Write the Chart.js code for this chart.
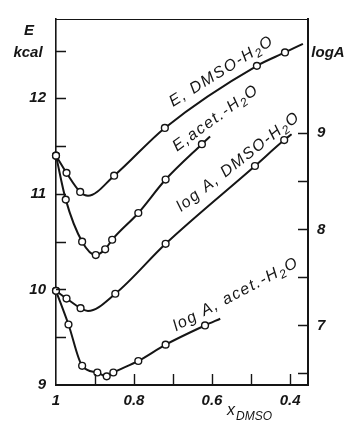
<!DOCTYPE html>
<html>
<head>
<meta charset="utf-8">
<script src="https://cdn.jsdelivr.net/npm/chart.js@4.4.1/dist/chart.umd.min.js"></script>
<style>
  html, body { margin: 0; padding: 0; background: #fff; }
  canvas { display: block; }
</style>
</head>
<body>
<canvas id="chart" width="353" height="423"></canvas>
<script>
// mole fraction of DMSO (x axis runs from 1 down to ~0.35)
const eDmsoX = [1.0, 0.973, 0.938, 0.918, 0.851, 0.721, 0.485, 0.413, 0.367];
const eDmsoY = [11.40, 11.22, 11.02, 10.98, 11.19, 11.69, 12.34, 12.48, 12.57];
const eDmsoMarks = [1, 1, 1, 0, 1, 1, 1, 1, 0];

const eAcetX = [1.0, 0.975, 0.933, 0.898, 0.874, 0.856, 0.789, 0.719, 0.626, 0.605];
const eAcetY = [11.40, 10.94, 10.50, 10.36, 10.42, 10.52, 10.80, 11.15, 11.52, 11.60];
const eAcetMarks = [1, 1, 1, 1, 1, 1, 1, 1, 1, 0];

const aDmsoX = [1.0, 0.973, 0.937, 0.918, 0.848, 0.719, 0.490, 0.415, 0.396];
const aDmsoY = [7.36, 7.28, 7.18, 7.15, 7.33, 7.85, 8.66, 8.93, 8.99];
const aDmsoMarks = [1, 1, 1, 0, 1, 1, 1, 1, 0];

const aAcetX = [1.0, 0.968, 0.933, 0.894, 0.870, 0.853, 0.789, 0.719, 0.618, 0.579];
const aAcetY = [7.36, 7.01, 6.58, 6.51, 6.47, 6.51, 6.63, 6.80, 7.00, 7.07];
const aAcetMarks = [1, 1, 1, 1, 1, 1, 1, 1, 1, 0];

const xTicks = [1, 0.9, 0.8, 0.7, 0.6, 0.5, 0.4];
const xTickLabels = { 1: '1', 0.8: '0.8', 0.6: '0.6', 0.4: '0.4' };
const eTicks = [9, 9.5, 10, 10.5, 11, 11.5, 12, 12.5];
const eTickLabels = { 9: '9', 10: '10', 11: '11', 12: '12' };
const aTicks = [6.5, 7, 7.5, 8, 8.5, 9];
const aTickLabels = { 7: '7', 8: '8', 9: '9' };

const ink = '#151515';
const face = '"Liberation Sans", Arial, sans-serif';

const toPoints = (xs, ys) => xs.map((x, i) => ({ x, y: ys[i] }));

const curve = (xs, ys, marks, axis) => ({
  data: toPoints(xs, ys),
  yAxisID: axis,
  borderColor: ink,
  borderWidth: 2,
  backgroundColor: '#fff',
  pointBorderColor: ink,
  pointBackgroundColor: '#fff',
  pointBorderWidth: 1.4,
  pointRadius: marks.map(m => (m ? 3.4 : 0)),
  cubicInterpolationMode: 'monotone',
  clip: false
});

// curve captions, anchored in data space
const captions = [
  { parts: ['E, DMSO-H', '2', 'O'], x: 0.700, y: 11.91, axis: 'yE', angle: -32 },
  { parts: ['E,acet.-H', '2', 'O'], x: 0.690, y: 11.44, axis: 'yE', angle: -36 },
  { parts: ['log A, DMSO-H', '2', 'O'], x: 0.679, y: 8.18, axis: 'yA', angle: -38 },
  { parts: ['log A, acet.-H', '2', 'O'], x: 0.692, y: 6.94, axis: 'yA', angle: -28 }
];

function drawParts(ctx, parts, size, spacing) {
  let cx = 0;
  parts.forEach((t, i) => {
    const sub = i === 1;
    ctx.font = 'italic ' + (sub ? Math.round(size * 0.72) : size) + 'px ' + face;
    ctx.letterSpacing = spacing + 'px';
    ctx.fillText(t, cx, sub ? size * 0.22 : 0);
    cx += ctx.measureText(t).width;
  });
}

const decor = {
  id: 'decor',
  afterDraw(chart) {
    const { ctx, chartArea: a, scales } = chart;
    ctx.save();
    ctx.strokeStyle = ink;
    ctx.fillStyle = ink;

    // top edge of frame
    ctx.lineWidth = 1;
    ctx.beginPath();
    ctx.moveTo(a.left, a.top + 0.5);
    ctx.lineTo(a.right, a.top + 0.5);
    ctx.stroke();

    // inward tick marks
    ctx.lineWidth = 1.4;
    ctx.beginPath();
    eTicks.filter(v => v !== 9).forEach(v => {
      const y = Math.round(scales.yE.getPixelForValue(v)) + 0.5;
      ctx.moveTo(a.left, y);
      ctx.lineTo(a.left + 10, y);
    });
    aTicks.forEach(v => {
      const y = Math.round(scales.yA.getPixelForValue(v)) + 0.5;
      ctx.moveTo(a.right, y);
      ctx.lineTo(a.right - 10, y);
    });
    xTicks.filter(v => v !== 1).forEach(v => {
      const x = Math.round(scales.x.getPixelForValue(v)) + 0.5;
      ctx.moveTo(x, a.bottom);
      ctx.lineTo(x, a.bottom - 11);
    });
    ctx.stroke();

    // axis titles
    ctx.textBaseline = 'middle';
    ctx.textAlign = 'center';
    ctx.font = 'italic bold 15px ' + face;
    ctx.fillText('E', 29, 31);
    ctx.fillText('kcal', 28, 53);
    ctx.fillText('logA', 328, 53);
    ctx.textAlign = 'left';
    ctx.font = 'italic 16px ' + face;
    ctx.fillText('x', 227, 411);
    ctx.font = 'italic 12px ' + face;
    ctx.fillText('DMSO', 236, 417);

    // curve captions
    ctx.textBaseline = 'alphabetic';
    captions.forEach(c => {
      const px = scales.x.getPixelForValue(c.x);
      const py = scales[c.axis].getPixelForValue(c.y);
      ctx.save();
      ctx.translate(px, py);
      ctx.rotate(c.angle * Math.PI / 180);
      drawParts(ctx, c.parts, 16, 1.5);
      ctx.restore();
    });
    ctx.restore();
  }
};

const tickFont = { family: face, size: 15, style: 'italic', weight: 'bold' };

new Chart(document.getElementById('chart'), {
  type: 'line',
  data: {
    datasets: [
      curve(eDmsoX, eDmsoY, eDmsoMarks, 'yE'),
      curve(eAcetX, eAcetY, eAcetMarks, 'yE'),
      curve(aDmsoX, aDmsoY, aDmsoMarks, 'yA'),
      curve(aAcetX, aAcetY, aAcetMarks, 'yA')
    ]
  },
  options: {
    responsive: false,
    animation: false,
    layout: { padding: { top: 10 } },
    plugins: { legend: { display: false }, tooltip: { enabled: false } },
    scales: {
      x: {
        type: 'linear',
        reverse: true,
        min: 0.354,
        max: 1.0,
        afterBuildTicks: s => { s.ticks = xTicks.map(value => ({ value })); },
        afterFit: s => { s.height = 38; },
        grid: { display: false, drawTicks: false },
        border: { color: ink, width: 2 },
        ticks: {
          autoSkip: false, maxRotation: 0, padding: 7, color: ink, font: tickFont,
          callback: v => xTickLabels[v] || ''
        }
      },
      yE: {
        type: 'linear',
        position: 'left',
        min: 9,
        max: 12.83,
        afterBuildTicks: s => { s.ticks = eTicks.map(value => ({ value })); },
        afterFit: s => { s.width = 56; },
        grid: { display: false, drawTicks: false },
        border: { color: ink, width: 1.6 },
        ticks: {
          autoSkip: false, padding: 10, color: ink, font: tickFont,
          callback: v => eTickLabels[v] || ''
        }
      },
      yA: {
        type: 'linear',
        position: 'right',
        min: 6.38,
        max: 10.19,
        afterBuildTicks: s => { s.ticks = aTicks.map(value => ({ value })); },
        afterFit: s => { s.width = 45; },
        grid: { display: false, drawTicks: false },
        border: { color: ink, width: 2 },
        ticks: {
          autoSkip: false, padding: 9, color: ink, font: tickFont,
          callback: v => aTickLabels[v] || ''
        }
      }
    }
  },
  plugins: [decor]
});
</script>
</body>
</html>
